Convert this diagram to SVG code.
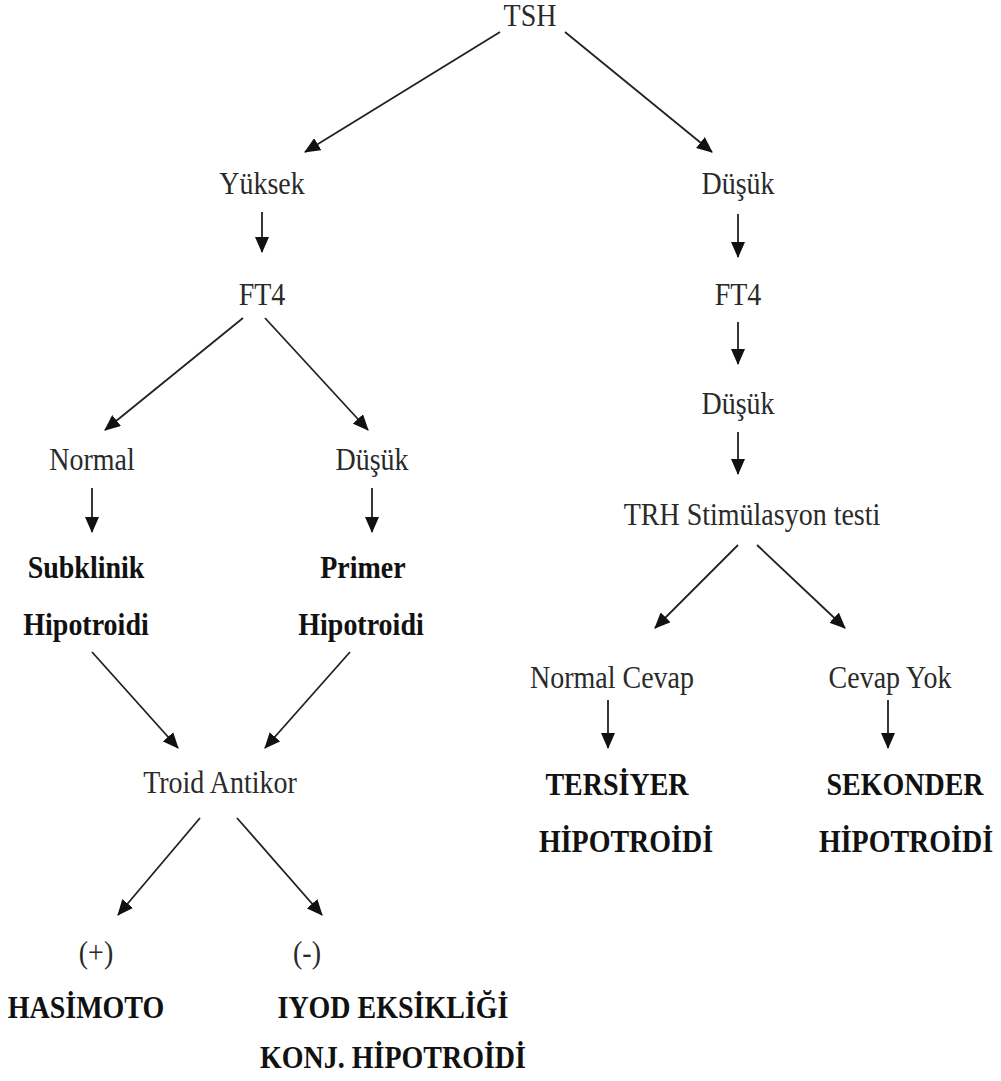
<svg xmlns="http://www.w3.org/2000/svg" width="1001" height="1081" viewBox="0 0 1001 1081">
<style>
text{font-family:"Liberation Serif","Times New Roman",serif;font-size:28px;text-anchor:middle}
.n{fill:#2a2a2a}
.b{font-weight:bold;fill:#111}
.c line{stroke:#222;stroke-width:1.8;marker-end:url(#ah)}
</style>
<defs>
<marker id="ah" markerUnits="userSpaceOnUse" markerWidth="16" markerHeight="14" refX="15" refY="7" orient="auto">
<path d="M0,0 L16,7 L0,14 Z" fill="#111"/>
</marker>
</defs>
<rect width="1001" height="1081" fill="#fff"/>
<g class="c" id="connectors">
<line x1="500" y1="32" x2="305" y2="152"/>
<line x1="565" y1="32" x2="712" y2="152"/>
<line x1="262" y1="212" x2="262" y2="252"/>
<line x1="738" y1="214" x2="738" y2="257"/>
<line x1="243" y1="318" x2="105" y2="430"/>
<line x1="265" y1="318" x2="368" y2="430"/>
<line x1="738" y1="322" x2="738" y2="364"/>
<line x1="738" y1="432" x2="738" y2="474"/>
<line x1="92" y1="488" x2="92" y2="532"/>
<line x1="372" y1="488" x2="372" y2="532"/>
<line x1="92" y1="652" x2="178" y2="748"/>
<line x1="350" y1="652" x2="265" y2="748"/>
<line x1="200" y1="818" x2="118" y2="915"/>
<line x1="237" y1="818" x2="322" y2="915"/>
<line x1="738" y1="545" x2="655" y2="628"/>
<line x1="757" y1="545" x2="845" y2="628"/>
<line x1="608" y1="700" x2="608" y2="748"/>
<line x1="888" y1="700" x2="888" y2="748"/>
</g>
<g id="tsh"><text class="n" x="530" y="26" transform="matrix(1,0,0,1.1,0,-2.6)">TSH</text></g>
<g id="yuksek"><text class="n" x="262" y="194" transform="matrix(1,0,0,1.1,0,-19.4)">Yüksek</text></g>
<g id="dusuk1"><text class="n" x="738" y="194" transform="matrix(1,0,0,1.1,0,-19.4)">Düşük</text></g>
<g id="ft4a"><text class="n" x="262" y="305" transform="matrix(1,0,0,1.1,0,-30.5)">FT4</text></g>
<g id="ft4b"><text class="n" x="738" y="305" transform="matrix(1,0,0,1.1,0,-30.5)">FT4</text></g>
<g id="dusuk2"><text class="n" x="738" y="414" transform="matrix(1,0,0,1.1,0,-41.4)">Düşük</text></g>
<g id="trh"><text class="n" x="752" y="525" transform="matrix(1,0,0,1.1,0,-52.5)">TRH Stimülasyon testi</text></g>
<g id="normal"><text class="n" x="92" y="470" transform="matrix(1,0,0,1.1,0,-47)">Normal</text></g>
<g id="dusuk3"><text class="n" x="372" y="470" transform="matrix(1,0,0,1.1,0,-47)">Düşük</text></g>
<g id="subklinik"><text class="b" x="86" y="578" transform="matrix(1,0,0,1.1,0,-57.8)">Subklinik</text><text class="b" x="86" y="635" transform="matrix(1,0,0,1.1,0,-63.5)">Hipotroidi</text></g>
<g id="primer"><text class="b" x="363" y="578" transform="matrix(1,0,0,1.1,0,-57.8)">Primer</text><text class="b" x="361" y="635" transform="matrix(1,0,0,1.1,0,-63.5)">Hipotroidi</text></g>
<g id="troid"><text class="n" x="220" y="793" transform="matrix(1,0,0,1.1,0,-79.3)">Troid Antikor</text></g>
<g id="plus"><text class="n" x="96" y="963" transform="matrix(1,0,0,1.1,0,-96.3)">(+)</text></g>
<g id="minus"><text class="n" x="307" y="963" transform="matrix(1,0,0,1.1,0,-96.3)">(-)</text></g>
<g id="hasimoto"><text class="b" x="86" y="1018" transform="matrix(1,0,0,1.1,0,-101.8)">HASİMOTO</text></g>
<g id="iyod"><text class="b" x="393" y="1018" transform="matrix(1,0,0,1.1,0,-101.8)">IYOD EKSİKLİĞİ</text><text class="b" x="393" y="1068" transform="matrix(1,0,0,1.1,0,-106.8)">KONJ. HİPOTROİDİ</text></g>
<g id="normalcevap"><text class="n" x="612" y="688" transform="matrix(1,0,0,1.1,0,-68.8)">Normal Cevap</text></g>
<g id="cevapyok"><text class="n" x="890" y="688" transform="matrix(1,0,0,1.1,0,-68.8)">Cevap Yok</text></g>
<g id="tersiyer"><text class="b" x="617" y="795" transform="matrix(1,0,0,1.1,0,-79.5)">TERSİYER</text><text class="b" x="626" y="852" transform="matrix(1,0,0,1.1,0,-85.2)">HİPOTROİDİ</text></g>
<g id="sekonder"><text class="b" x="905" y="795" transform="matrix(1,0,0,1.1,0,-79.5)">SEKONDER</text><text class="b" x="906" y="852" transform="matrix(1,0,0,1.1,0,-85.2)">HİPOTROİDİ</text></g>
</svg>
